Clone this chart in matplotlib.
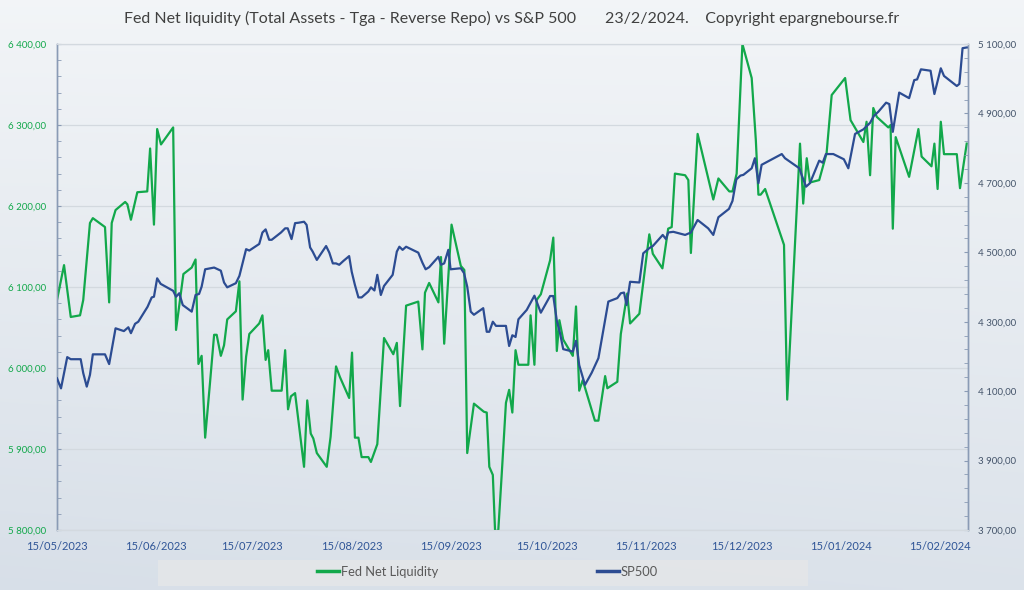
import matplotlib
matplotlib.use('Agg')
import matplotlib.pyplot as plt
import matplotlib.dates as mdates
from matplotlib.ticker import FuncFormatter, MultipleLocator, FixedLocator
from matplotlib.patches import Rectangle
from matplotlib.lines import Line2D
import numpy as np
import datetime as dt

plt.rcParams['font.family'] = ['Lato', 'DejaVu Sans']

title = ("Fed Net liquidity (Total Assets - Tga - Reverse Repo) vs S&P 500"
         "       23/2/2024.    Copyright epargnebourse.fr")
start_date = "15/05/2023"
end_day = 284.7  # days after start shown on the axis
xtick_labels = ["15/05/2023", "15/06/2023", "15/07/2023", "15/08/2023", "15/09/2023",
                "15/10/2023", "15/11/2023", "15/12/2023", "15/01/2024", "15/02/2024"]
series_names = ["Fed Net Liquidity", "SP500"]

# Fed Net Liquidity: days after 15/05/2023 and values (left axis)
liq_day = [0, 2.2, 4.3, 7.2, 8.2, 10.3, 11.2, 15, 16.3, 17.1,
           18.3, 21.3, 22, 23.1, 25.1, 28.2, 29.1, 30.3, 31.3, 32.5,
           36.3, 37.2, 39.5, 42.1, 43.3, 44.2, 45.2, 46.3, 47.8, 49.1,
           49.9, 51.2, 52.2, 53.2, 55.9, 57, 58, 59.1, 60.1, 63.2,
           64.2, 65.2, 66, 67.1, 70.2, 71.3, 72.2, 73.1, 74.4, 77.2,
           78.2, 79.3, 80.1, 81.2, 84.3, 85.5, 87.2, 88.4, 91.3, 92.2,
           93.1, 94.2, 95.2, 97.3, 98.1, 100.1, 102.2, 105.1, 106.2, 107.2,
           109.1, 112.9, 114.2, 115, 116.3, 119.2, 120, 121, 123.3, 126.2,
           127.3, 128.2, 130.3, 133.4, 134.3, 135.1, 136.2, 136.9, 137.9, 139,
           140.3, 141.3, 142.3, 143.3, 144.2, 147.3, 148, 149.2, 149.9, 151.2,
           154.1, 155.1, 156.2, 157, 158.2, 161.2, 162.2, 163.2, 164.3, 168.1,
           169.2, 171.3, 172, 175.1, 176.2, 178.2, 179.1, 182, 185.1, 186.2,
           189.2, 191, 192.1, 193.1, 196.3, 197.3, 198.1, 200.2, 205.1, 206.7,
           210.1, 211.1, 212.4, 214.2, 217.1, 218.4, 219.2, 219.9, 221.3, 227.2,
           228.2, 232.2, 233.2, 234.3, 235.3, 238.2, 240.5, 242.1, 246.3, 248,
           252, 253, 254.1, 255.1, 256.2, 259.8, 260.5, 261.2, 262.1, 266.3,
           269.2, 270.2, 273.3, 274.2, 275.2, 276.2, 277.2, 281.2, 282.2, 284.3]
liq_val = [6084, 6127, 6063, 6065, 6084, 6179, 6185, 6174, 6081, 6179,
           6195, 6205, 6202, 6183, 6217, 6218, 6271, 6177, 6295, 6276,
           6297, 6047, 6116, 6124, 6134, 6005, 6015, 5914, 5981, 6041,
           6041, 6015, 6028, 6060, 6070, 6107, 5961, 6014, 6042, 6055,
           6065, 6010, 6022, 5972, 5972, 6022, 5949, 5965, 5969, 5878,
           5960, 5919, 5913, 5895, 5878, 5915, 6002, 5989, 5963, 6019,
           5914, 5914, 5890, 5890, 5884, 5906, 6037, 6017, 6031, 5953,
           6077, 6082, 6023, 6093, 6105, 6081, 6137, 6030, 6177, 6126,
           6121, 5895, 5956, 5946, 5945, 5878, 5868, 5799, 5799, 5870,
           5957, 5973, 5945, 6022, 6004, 6004, 6065, 6004, 6084, 6091,
           6133, 6161, 6021, 6059, 6035, 6015, 6076, 5972, 5985, 5935,
           5935, 5990, 5975, 5983, 6042, 6092, 6055, 6067, 6165, 6141,
           6123, 6172, 6174, 6240, 6238, 6232, 6142, 6289, 6208, 6234,
           6218, 6218, 6240, 6400, 6358, 6281, 6214, 6214, 6221, 6152,
           5961, 6277, 6203, 6259, 6229, 6232, 6265, 6337, 6358, 6306,
           6279, 6304, 6238, 6321, 6310, 6297, 6300, 6172, 6285, 6236,
           6295, 6261, 6249, 6277, 6221, 6304, 6264, 6264, 6222, 6277]

# SP500: days after 15/05/2023 and values (right axis)
spx_day = [0, 1.25, 3.2, 4.3, 7.4, 8.2, 9.3, 10.3, 11.2, 15,
           16.3, 18.3, 20.9, 22.3, 23.1, 24.4, 25.4, 28.3, 29.6, 30.3,
           31.3, 32.4, 36.3, 37.2, 38.2, 39.3, 42.1, 43.3, 44.4, 45.2,
           46.3, 49.1, 51.2, 52.2, 53.2, 55.9, 57, 59.1, 60.1, 63.2,
           64.2, 65.2, 66.3, 67.1, 70, 71.3, 72.1, 73.3, 74.4, 75.4,
           77.2, 78, 79.1, 79.9, 81.2, 84.1, 85.1, 86.2, 87.2, 88.2,
           89.5, 91.3, 92.1, 93.1, 94.2, 95.2, 97.3, 98.1, 99.2, 100.1,
           101.2, 102.2, 104.9, 106.2, 107, 108, 109.1, 112.9, 114.2, 115.2,
           116.3, 119.2, 120, 121, 122.3, 123, 126.2, 127.2, 128.2, 129.3,
           130.3, 133.2, 134.3, 135.1, 136.2, 137.2, 140.3, 141.3, 142.3, 143.3,
           144.2, 146.8, 147.9, 149.2, 151.2, 154.1, 155.1, 156.2, 157.2, 158.2,
           161.2, 162.2, 163.2, 165, 167.1, 169.2, 170.2, 171.3, 172.3, 175.1,
           176.2, 177.2, 178, 179.1, 182, 183.2, 185.1, 186.2, 189.3, 190.3,
           191, 192.6, 196.3, 198.1, 200.2, 203.5, 205.1, 206.7, 210, 211.1,
           212.3, 213.6, 214.5, 217.1, 218.1, 219.2, 220.2, 226.5, 227.5, 232,
           232.7, 234.1, 235.3, 238.2, 239.3, 240.3, 242.6, 245.9, 247.3, 249.4,
           252, 254.1, 255.3, 256.7, 259.1, 260.1, 261.2, 263.2, 266.3, 267.9,
           268.8, 270, 273, 274.2, 276.2, 277.2, 281.2, 282, 283, 284.3]
spx_val = [4137, 4108, 4198, 4192, 4192, 4152, 4113, 4147, 4206, 4206,
           4178, 4281, 4273, 4284, 4267, 4294, 4300, 4343, 4370, 4372,
           4425, 4409, 4389, 4372, 4382, 4348, 4329, 4377, 4380, 4401,
           4451, 4456, 4447, 4413, 4399, 4411, 4432, 4509, 4505, 4524,
           4557, 4566, 4536, 4536, 4557, 4569, 4569, 4538, 4584, 4585,
           4588, 4579, 4514, 4502, 4478, 4518, 4499, 4468, 4468, 4464,
           4475, 4489, 4444, 4406, 4370, 4370, 4387, 4399, 4390, 4435,
           4377, 4403, 4435, 4502, 4516, 4507, 4516, 4499, 4470, 4451,
           4457, 4487, 4464, 4468, 4507, 4451, 4454, 4440, 4401, 4329,
           4320, 4339, 4271, 4271, 4300, 4288, 4288, 4230, 4261, 4256,
           4307, 4334, 4353, 4375, 4326, 4374, 4374, 4303, 4267, 4221,
           4214, 4245, 4175, 4118, 4153, 4195, 4248, 4305, 4358, 4368,
           4382, 4384, 4348, 4415, 4413, 4497, 4512, 4518, 4550, 4538,
           4557, 4559, 4550, 4557, 4593, 4569, 4550, 4601, 4625, 4648,
           4710, 4721, 4723, 4742, 4771, 4699, 4752, 4783, 4771, 4742,
           4723, 4689, 4699, 4764, 4758, 4783, 4783, 4768, 4742, 4841,
           4854, 4873, 4893, 4905, 4931, 4927, 4847, 4960, 4944, 4996,
           4998, 5027, 5023, 4956, 5030, 5008, 4979, 4985, 5088, 5090]

left_range = (5800, 6400)
right_range = (3700, 5100)

GREEN = '#12a84b'
BLUE = '#2c4c92'
AXIS = '#8a9bb5'

def fr(v, pos=None):
    return f"{v:,.2f}".replace(',', ' ').replace('.', ',')

t0 = mdates.date2num(dt.datetime.strptime(start_date, "%d/%m/%Y"))
liq_x = t0 + np.array(liq_day)
spx_x = t0 + np.array(spx_day)
tick_x = [mdates.date2num(dt.datetime.strptime(s, "%d/%m/%Y")) for s in xtick_labels]

fig = plt.figure(figsize=(10.24, 5.9), dpi=100)

# background gradient
bg = fig.add_axes([0, 0, 1, 1], zorder=-10)
yy, xx = np.mgrid[0:1:200j, 0:1:200j]
top = np.array([0.95, 0.96, 0.97])
bot = np.array([0.845, 0.875, 0.91])
w = np.clip(yy * 0.85 + 0.15 * (1 - xx) * yy, 0, 1)[..., None]
img = top * (1 - w) + bot * w
bg.imshow(img, extent=[0, 1, 0, 1], aspect='auto', origin='upper')
bg.axis('off')

ax = fig.add_axes([57 / 1024, 1 - 530 / 590, (968 - 57) / 1024, (530 - 44) / 590])
ax.set_facecolor('none')
ax2 = ax.twinx()

ax.plot(liq_x, liq_val, color=GREEN, lw=1.6, zorder=3)
ax2.plot(spx_x, spx_val, color=BLUE, lw=1.6, zorder=3)

ax.set_xlim(t0, t0 + end_day)
ax.set_ylim(*left_range)
ax2.set_ylim(*right_range)

ax.set_xticks(tick_x)
ax.set_xticklabels(xtick_labels)
ax.tick_params(axis='x', length=0, pad=8, labelsize=8, labelcolor='#2f5597')

ax.yaxis.set_major_locator(MultipleLocator(100))
ax.yaxis.set_minor_locator(MultipleLocator(20))
ax.yaxis.set_major_formatter(FuncFormatter(fr))
ax.tick_params(axis='y', which='both', direction='in', length=3, color=AXIS,
               labelsize=7, labelcolor=GREEN, pad=8)

ax2.yaxis.set_major_locator(FixedLocator(np.arange(right_range[0], right_range[1] + 1, 200)))
ax2.yaxis.set_minor_locator(FixedLocator(np.arange(right_range[0], right_range[1] + 1, 40)))
ax2.yaxis.set_major_formatter(FuncFormatter(fr))
ax2.tick_params(axis='y', which='both', direction='in', length=3, color=AXIS,
                labelsize=7, labelcolor='#44546a', pad=7)

ax.grid(axis='y', which='major', color='#d3d9df', lw=0.9)
ax.set_axisbelow(True)

for a in (ax, ax2):
    a.spines['left'].set_color(AXIS)
    a.spines['right'].set_color(AXIS)
    a.spines['top'].set_color('#d3d9df')
    a.spines['bottom'].set_color('#d3d9df')
    a.spines['left'].set_linewidth(1.0)
    a.spines['right'].set_linewidth(1.0)

fig.text(0.5, 1 - 18 / 590, title, ha='center', va='center', fontsize=11.5, color='#404040')

# legend box
fig.patches.append(Rectangle((158 / 1024, 1 - 586 / 590), (808 - 158) / 1024, 26 / 590,
                             transform=fig.transFigure, facecolor='#e4e6e8', edgecolor='none',
                             alpha=0.9, zorder=1))
handles = [Line2D([], [], color=GREEN, lw=2.5), Line2D([], [], color=BLUE, lw=2.5)]
leg = fig.legend(handles, series_names, loc='center', bbox_to_anchor=(0.476, 1 - 572 / 590),
                 ncol=2, frameon=False, fontsize=9.3, handlelength=1.7, handletextpad=0.15,
                 columnspacing=12.3, labelcolor='#595959')

fig.savefig('out.png', dpi=100)
